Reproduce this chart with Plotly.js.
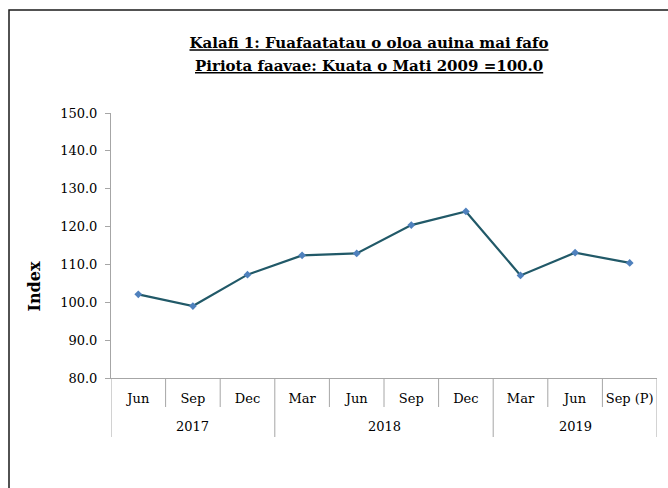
<!DOCTYPE html>
<html>
<head>
<meta charset="utf-8">
<script src="https://cdn.plot.ly/plotly-3.0.1.min.js"></script>
<style>html,body{margin:0;padding:0;background:#fff;}#chart{width:668px;height:488px;}</style>
</head>
<body>
<div id="chart"></div>
<script>
var years = ["2017","2017","2017","2018","2018","2018","2018","2019","2019","2019"];
var months = ["Jun","Sep","Dec","Mar","Jun","Sep","Dec","Mar","Jun","Sep (P)"];
var indexValues = [102.1, 99.0, 107.3, 112.4, 112.9, 120.4, 124.0, 107.1, 113.1, 110.4];
var yTicks = [80, 90, 100, 110, 120, 130, 140, 150];
var titleLine1 = "Kalafi 1: Fuafaatatau o oloa auina mai fafo";
var titleLine2 = "Piriota faavae: Kuata o Mati 2009 =100.0";
var yTitle = "Index";

var fontFam = "DejaVu Serif, Liberation Serif, serif";
var plotL = 111, plotR = 11, plotT = 113, plotB = 110;
var W = 668, H = 488;
var plotW = W - plotL - plotR, plotH = H - plotT - plotB;
function px2x(px) { return (px - plotL) / plotW; }
function px2y(py) { return (H - plotB - py) / plotH; }

var pos = months.map(function (m, i) { return i; });

// year groups
var groups = [];
years.forEach(function (y, i) {
  if (!groups.length || groups[groups.length - 1].year !== y) groups.push({year: y, start: i, end: i});
  else groups[groups.length - 1].end = i;
});

var axisGray = "#A6A6A6";
var shapes = [];
var groupEdges = {};
groups.forEach(function (g) { groupEdges[g.start] = true; groupEdges[g.end + 1] = true; });
for (var i = 0; i <= months.length; i++) {
  var isGroup = !!groupEdges[i];
  shapes.push({
    type: "line", xref: "x", yref: "paper",
    x0: i - 0.5, x1: i - 0.5, y0: 0, y1: isGroup ? px2y(437) : px2y(407),
    line: {color: axisGray, width: 1}
  });
}
// outer frame
shapes.push({
  type: "rect", xref: "paper", yref: "paper",
  x0: px2x(9), x1: px2x(700), y0: px2y(540), y1: px2y(10),
  line: {color: "#1a1a1a", width: 1.5}, fillcolor: "rgba(0,0,0,0)", layer: "below"
});

var annotations = groups.map(function (g) {
  return {
    xref: "x", yref: "paper",
    x: (g.start + g.end) / 2, y: px2y(426),
    text: g.year, showarrow: false, xanchor: "center", yanchor: "middle",
    font: {family: fontFam, size: 13, color: "#000"}
  };
});
annotations.push({
  xref: "paper", yref: "paper", x: px2x(369), y: px2y(66),
  text: "<b><u>" + titleLine2 + "</u></b>", showarrow: false,
  xanchor: "center", yanchor: "middle",
  font: {family: fontFam, size: 15, color: "#000"}
});
annotations.push({
  xref: "paper", yref: "paper", x: px2x(33.5), y: px2y(287),
  text: "<b>" + yTitle + "</b>", showarrow: false, textangle: -90,
  xanchor: "center", yanchor: "middle",
  font: {family: fontFam, size: 16, color: "#000"}
});

var trace = {
  type: "scatter",
  mode: "lines+markers",
  x: pos,
  y: indexValues,
  line: {color: "#215968", width: 2.2},
  marker: {symbol: "diamond", size: 6, color: "#4F81BD"},
  hoverinfo: "y"
};
var layout = {
  width: W, height: H,
  margin: {l: plotL, r: plotR, t: plotT, b: plotB},
  paper_bgcolor: "#fff", plot_bgcolor: "#fff",
  font: {family: fontFam, size: 13, color: "#000"},
  showlegend: false,
  title: {
    text: "<b><u>" + titleLine1 + "</u></b>",
    font: {family: fontFam, size: 15, color: "#000"},
    x: px2x(369), xref: "paper", xanchor: "center",
    y: 1 - 43 / H, yref: "container", yanchor: "middle"
  },
  xaxis: {
    range: [-0.5, months.length - 0.5],
    tickvals: pos, ticktext: months,
    showline: true, linecolor: axisGray, linewidth: 1,
    ticks: "", ticklabelstandoff: 8,
    showgrid: false, zeroline: false,
    tickfont: {family: fontFam, size: 13, color: "#000"}
  },
  yaxis: {
    range: [80, 150],
    tickvals: yTicks,
    tickformat: ".1f",
    showline: true, linecolor: axisGray, linewidth: 1,
    ticks: "outside", ticklen: 5, tickcolor: axisGray,
    ticklabelstandoff: 5,
    showgrid: false, zeroline: false,
    tickfont: {family: fontFam, size: 13, color: "#000"}
  },
  shapes: shapes,
  annotations: annotations
};
Plotly.newPlot("chart", [trace], layout, {displayModeBar: false, staticPlot: true});
</script>
</body>
</html>
